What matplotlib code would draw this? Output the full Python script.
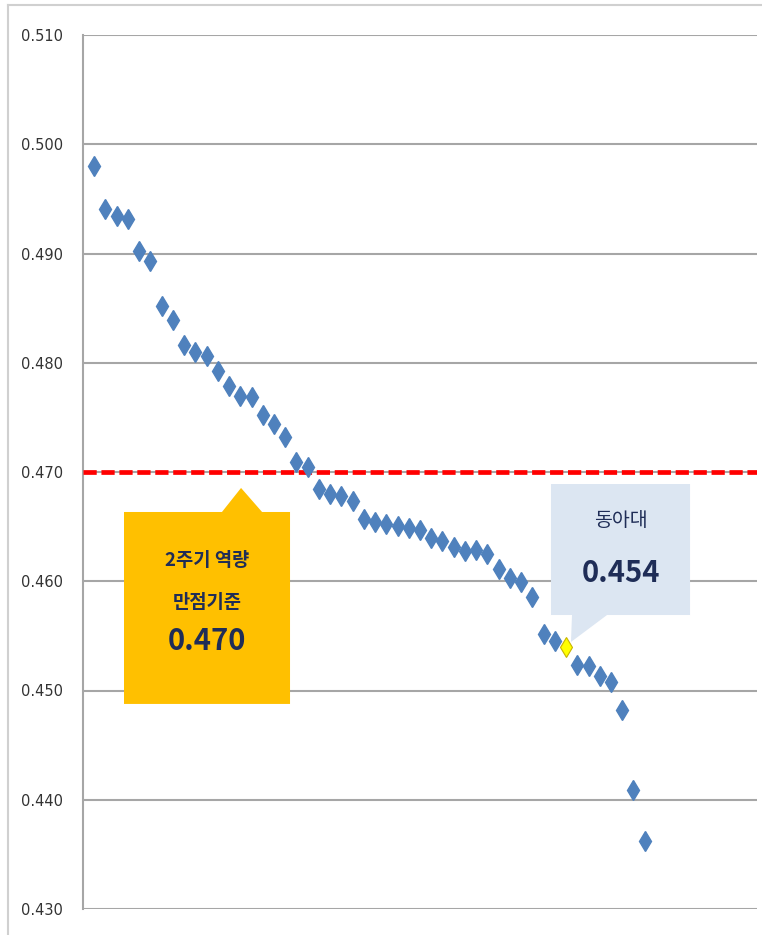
import numpy as np
import matplotlib
matplotlib.use("Agg")
import matplotlib.pyplot as plt
from matplotlib.patches import Polygon
from matplotlib.lines import Line2D

plt.rcParams['font.family'] = ['Noto Sans CJK KR', 'DejaVu Sans']

# university scores, sorted high -> low
scores = [0.4980, 0.4941, 0.4934, 0.4932, 0.4902, 0.4893, 0.4852, 0.4839, 0.4816, 0.4810,
          0.4806, 0.4792, 0.4779, 0.4770, 0.4769, 0.4752, 0.4744, 0.4732, 0.4709, 0.4705,
          0.4684, 0.4680, 0.4678, 0.4673, 0.4657, 0.4654, 0.4652, 0.4651, 0.4649, 0.4647,
          0.4640, 0.4637, 0.4631, 0.4628, 0.4629, 0.4625, 0.4611, 0.4603, 0.4599, 0.4586,
          0.4552, 0.4545, 0.4540, 0.4523, 0.4522, 0.4513, 0.4508, 0.4482, 0.4409, 0.4362]
highlight = 42          # 동아대
benchmark = 0.470
yticks = [0.430, 0.440, 0.450, 0.460, 0.470, 0.480, 0.490, 0.500, 0.510]
ytick_labels = ['0.430', '0.440', '0.450', '0.460', '0.470', '0.480', '0.490', '0.500', '0.510']

navy = '#1F2D57'
blue = '#4F81BD'

fig = plt.figure(figsize=(7.62, 9.35), dpi=100)
ax = fig.add_axes([83/762, 1 - 909/935, (757 - 83)/762, (909 - 35)/935])

# outer chart border (cropped on right / bottom)
fig.add_artist(Line2D([8/762, 8/762], [0, 1 - 5/935], color='#D0D0D0', lw=1.5,
                      transform=fig.transFigure))
fig.add_artist(Line2D([8/762, 1], [1 - 5/935, 1 - 5/935], color='#D0D0D0', lw=1.5,
                      transform=fig.transFigure))

ax.set_xlim(0, 60)
ax.set_ylim(0.430, 0.510)
ax.set_yticks(yticks)
ax.set_yticklabels(ytick_labels, fontfamily='DejaVu Sans', fontsize=10.5, color='#333333')
ax.set_xticks([])
ax.tick_params(axis='y', length=0, pad=14.5)
ax.grid(axis='y', color='#A6A6A6', lw=1.5, zorder=0)
ax.set_axisbelow(True)
for s in ['top', 'right', 'bottom']:
    ax.spines[s].set_visible(False)
ax.spines['left'].set_color('#A6A6A6')
ax.spines['left'].set_linewidth(1.5)

# benchmark line
ax.axhline(benchmark, color='#FF0000', lw=3.4, dashes=(2.8, 1.0), zorder=3)

# callout: benchmark
orange = Polygon([(3.65, 0.46634), (12.37, 0.46634), (14.07, 0.46854), (15.94, 0.46634),
                  (18.43, 0.46634), (18.43, 0.44877), (3.65, 0.44877)],
                 closed=True, facecolor='#FFC000', edgecolor='none', zorder=2, clip_on=False)
ax.add_patch(orange)
ax.text(11.04, 0.4619, '2주기 역량', ha='center', va='center', fontsize=13.5,
        fontweight='bold', color=navy, zorder=5)
ax.text(11.04, 0.4581, '만점기준', ha='center', va='center', fontsize=13.5,
        fontweight='bold', color=navy, zorder=5)
ax.text(11.04, 0.4545, f'{benchmark:.3f}', ha='center', va='center', fontsize=21,
        fontweight='bold', color=navy, zorder=5)

# callout: highlighted university
x = np.arange(1, len(scores) + 1)
bx0, bx1 = 41.66, 54.04
callout = Polygon([(bx0, 0.4689), (bx1, 0.4689), (bx1, 0.45691), (46.65, 0.45691),
                   (43.44, 0.45444), (43.53, 0.45691), (bx0, 0.45691)],
                  closed=True, facecolor='#DCE6F2', edgecolor='none', zorder=2)
ax.add_patch(callout)
ax.text((bx0 + bx1) / 2, 0.4656, '동아대', ha='center', va='center', fontsize=14,
        color=navy, zorder=5)
ax.text((bx0 + bx1) / 2, 0.4608, f'{scores[highlight]:.3f}', ha='center', va='center',
        fontsize=21, fontweight='bold', color=navy, zorder=5)

# points
others = [i for i in range(len(scores)) if i != highlight]
ax.plot(x[others], np.array(scores)[others], linestyle='none', marker='d', ms=10.5,
        color=blue, mec=blue, zorder=4)
ax.plot(x[highlight], scores[highlight], linestyle='none', marker='d', ms=10,
        color='#FFFF00', mec='#C8B400', mew=0.8, zorder=4)

fig.savefig('out.png', dpi=100)
